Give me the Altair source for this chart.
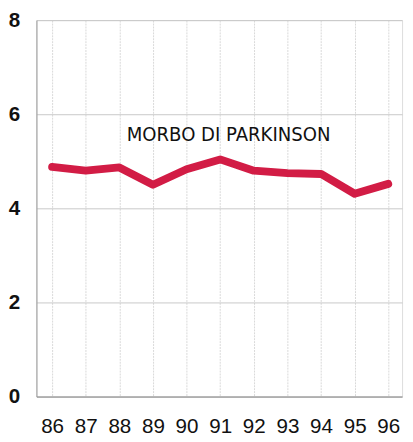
import altair as alt
import pandas as pd

years = [86, 87, 88, 89, 90, 91, 92, 93, 94, 95, 96]
values = [4.88, 4.80, 4.87, 4.50, 4.83, 5.04, 4.80, 4.75, 4.73, 4.31, 4.52]
label_text = ["MORBO DI PARKINSON"]
label_x = [91.25]
label_y = [5.56]
y_ticks = [0, 2, 4, 6, 8]

df = pd.DataFrame({"anno": years, "valore": values})
lab = pd.DataFrame({"anno": label_x, "valore": label_y, "t": label_text})

xscale = alt.Scale(domain=[85.534, 96.41], nice=False, zero=False)
yscale = alt.Scale(domain=[0, 8], nice=False)

xaxis = alt.Axis(values=years, format="d", ticks=False, labelPadding=20,
                 labelOverlap=False, labelFlush=False, labelSeparation=0,
                 labelFontSize=21, labelFont="Liberation Sans",
                 labelColor="#111", domainColor="#888",
                 gridColor="#d8d8d8", gridWidth=1, gridDash=[2, 1])
yaxis = alt.Axis(values=y_ticks, ticks=False, labelPadding=17,
                 labelOverlap=False, labelFlush=False,
                 labelFontSize=21, labelFontWeight="bold",
                 labelFont="Liberation Sans", labelColor="#111",
                 domainColor="#999", gridColor="#c8c8c8", gridWidth=1)

line = alt.Chart(df).mark_line(
    color="#d21c45", strokeWidth=8, strokeCap="round", strokeJoin="round"
).encode(
    x=alt.X("anno:Q", scale=xscale, title=None, axis=xaxis),
    y=alt.Y("valore:Q", scale=yscale, title=None, axis=yaxis),
)

text = alt.Chart(lab).mark_text(
    font="DejaVu Sans Condensed", fontSize=20.5, color="#111", baseline="middle", align="center"
).encode(
    x=alt.X("anno:Q", scale=xscale, title=None, axis=xaxis),
    y=alt.Y("valore:Q", scale=yscale, title=None, axis=yaxis),
    text="t:N",
)

chart = alt.layer(line, text).properties(
    width=373, height=384,
    autosize=alt.AutoSizeParams(type="none"),
    padding={"left": 29, "top": 8, "right": 3, "bottom": 42},
).configure_view(stroke="#999", strokeWidth=1).configure(background="white")

chart.save("out.html", embed_options={"renderer": "svg", "actions": False})
